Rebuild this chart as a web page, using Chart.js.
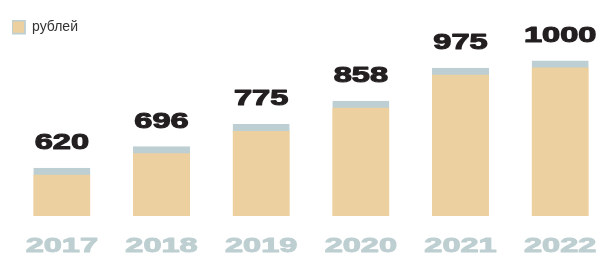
<!DOCTYPE html>
<html>
<head>
<meta charset="utf-8">
<script src="https://cdn.jsdelivr.net/npm/chart.js@4.4.1/dist/chart.umd.min.js"></script>
<style>
html,body{margin:0;padding:0;background:#fff;overflow:hidden;width:603px;height:256px;}
canvas{display:block;}
</style>
</head>
<body>
<canvas id="c" width="610" height="256"></canvas>
<script>
const years = ['2017', '2018', '2019', '2020', '2021', '2022'];
const values = [620, 696, 775, 858, 975, 1000];
const seriesName = 'рублей';

const BAR = '#ECD0A0';
const CAP = '#BDCFD2';
const YEAR = '#BECFD1';
const DARK = '#231F20';
const FONT = '"Liberation Sans", Arial, sans-serif';

// draw text stretched horizontally around its anchor (extended, heavy typeface look)
function stretchedFill(ctx, sx, weight) {
  const orig = ctx.fillText;
  ctx.fillText = function (text, x, y) {
    ctx.save();
    ctx.translate(x, y);
    ctx.scale(sx, 1);
    orig.call(ctx, text, 0, 0);
    if (weight) {
      ctx.strokeStyle = ctx.fillStyle;
      ctx.lineWidth = weight;
      ctx.lineJoin = 'round';
      ctx.strokeText(text, 0, 0);
    }
    ctx.restore();
  };
  return () => { ctx.fillText = orig; };
}

const valueLabels = {
  id: 'valueLabels',
  afterDatasetsDraw(chart) {
    const ctx = chart.ctx;
    const meta = chart.getDatasetMeta(0);
    ctx.save();
    ctx.font = 'bold 22px ' + FONT;
    ctx.fillStyle = DARK;
    ctx.textAlign = 'center';
    ctx.textBaseline = 'alphabetic';
    const undo = stretchedFill(ctx, 1.48, 1.1);
    meta.data.forEach((bar, i) => {
      ctx.fillText(String(chart.data.datasets[0].data[i]), bar.x, bar.y - 19);
    });
    undo();
    ctx.restore();
  }
};

const stretchedTicks = {
  id: 'stretchedTicks',
  beforeDraw(chart) {
    const s = chart.scales.x;
    if (s && !s.__wrapped) {
      const orig = s.drawLabels.bind(s);
      s.drawLabels = function (area) {
        const undo = stretchedFill(chart.ctx, 1.55, 1);
        orig(area);
        undo();
      };
      s.__wrapped = true;
    }
  }
};

new Chart(document.getElementById('c'), {
  type: 'bar',
  data: {
    labels: years,
    datasets: [{
      label: seriesName,
      data: values,
      backgroundColor: BAR,
      borderColor: CAP,
      borderWidth: {top: 7, right: 0, bottom: 0, left: 0},
      borderSkipped: false,
      barThickness: 57
    }]
  },
  options: {
    responsive: false,
    animation: false,
    devicePixelRatio: 1,
    layout: {padding: {left: 12, right: 0, top: 20, bottom: 0}},
    plugins: {
      legend: {
        position: 'top',
        align: 'start',
        labels: {
          boxWidth: 13,
          boxHeight: 13,
          padding: 0,
          color: '#333333',
          font: {family: FONT, size: 14}
        }
      },
      tooltip: {enabled: false}
    },
    scales: {
      x: {
        grid: {display: false, drawTicks: false},
        border: {display: false},
        afterFit(scale) { scale.height = 40; },
        ticks: {
          color: YEAR,
          padding: 20,
          font: {family: FONT, size: 21, weight: 'bold', lineHeight: 1}
        }
      },
      y: {
        display: false,
        min: 450,
        max: 1060
      }
    }
  },
  plugins: [valueLabels, stretchedTicks]
});
</script>
</body>
</html>
